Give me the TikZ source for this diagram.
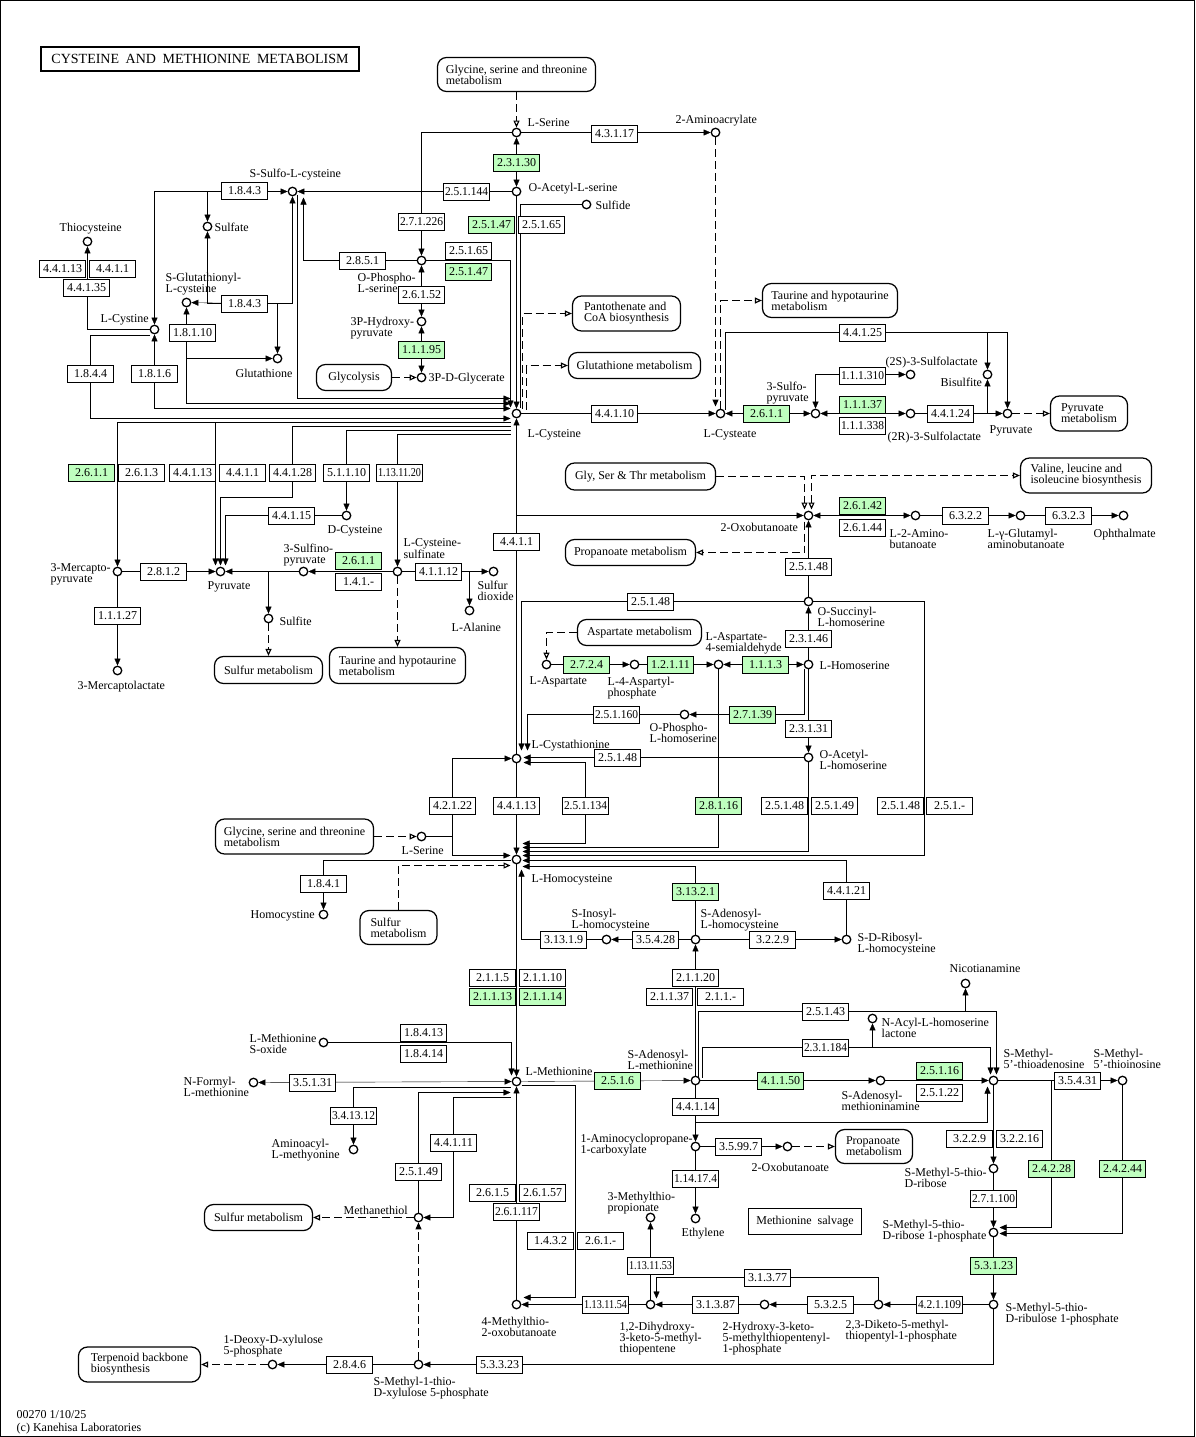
\documentclass[tikz,border=0pt]{standalone}
\usepackage{fontspec}
\setmainfont{Liberation Serif}
\usepackage{graphicx}
\usetikzlibrary{arrows.meta,calc}
\pgfdeclarelayer{lines}
\pgfsetlayers{lines,main}
\definecolor{kg}{HTML}{BFFFBF}
\newcommand\ecfit[1]{\sbox0{#1}\ifdim\wd0>43bp\relax\resizebox{43bp}{\height}{#1}\else#1\fi}
\newcommand\cpd[3]{\node[cpd] (#1) at (#2,#3) {};}
\newcommand\ecb[4]{\node[ecbox] (#1) at (#2,#3) {\ecfit{#4}};}
\newcommand\ecg[4]{\node[ecbox,fill=kg] (#1) at (#2,#3) {\ecfit{#4}};}
\newcommand\Lb[4]{\node[lb] (#1) at (#2,#3) {#4};}
\newcommand\mapb[6]{\node[mapbox,minimum width=#4bp,minimum height=#5bp] (#1) at (#2,#3) {#6};}
\begin{document}
\begin{tikzpicture}[x=1bp,y=-1bp,line width=1bp,
 cpd/.style={circle,draw,fill=white,inner sep=0pt,minimum size=8.5bp,line width=1.3bp},
 ecbox/.style={draw,fill=white,minimum width=46bp,minimum height=17bp,inner sep=0pt,font=\fontsize{12bp}{12bp}\selectfont},
 mapbox/.style={draw,fill=white,rounded corners=9bp,line width=1.25bp,align=left,inner sep=2bp,font=\fontsize{12bp}{11bp}\selectfont},
 lb/.style={anchor=north west,yshift=4.5bp,inner sep=0pt,align=left,font=\fontsize{12bp}{11bp}\selectfont},
 ar/.style={-{Triangle[length=7bp,width=6bp]}},
 ar2/.style={{Triangle[length=7bp,width=6bp]}-{Triangle[length=7bp,width=6bp]}},
 oar/.style={-{Triangle[open,length=7bp,width=6bp]}},
 oar2/.style={{Triangle[open,length=7bp,width=6bp]}-{Triangle[open,length=7bp,width=6bp]}},
 dsh/.style={dash pattern=on 8bp off 4bp,line width=1.15bp},
 rc/.style={}]
\useasboundingbox (0,0) rectangle (1195,1437);
\begin{pgfonlayer}{lines}
\fill[white] (0,0) rectangle (1195,1437);
\end{pgfonlayer}
\begin{scope}[shift={(0.5,0.5)}]
% ---------- title, maps ----------
\node[draw,line width=2bp,minimum width=318bp,minimum height=24bp,inner sep=0pt,font=\fontsize{14bp}{14bp}\selectfont] (title) at (199.5,58.5) {\makebox[297bp]{CYSTEINE\hfill AND\hfill METHIONINE\hfill METABOLISM}};
\mapb{mapgly1}{516}{74}{158}{34}{Glycine, serine and threonine\\metabolism}
\mapb{mappan}{626}{313}{108}{35}{Pantothenate and\\CoA biosynthesis}
\mapb{maptau1}{829.5}{300}{135}{34}{Taurine and hypotaurine\\metabolism}
\mapb{mapglyc}{353.5}{377}{75}{26}{Glycolysis}
\mapb{mapgsh}{634}{365}{132}{26}{Glutathione metabolism}
\mapb{mappyr}{1088.5}{413}{77}{35}{Pyruvate\\metabolism}
\mapb{mapgst}{640}{476}{150}{27}{Gly, Ser \& Thr metabolism}
\mapb{mapval}{1085.5}{475}{131}{35}{Valine, leucine and\\isoleucine biosynthesis}
\mapb{mapprop1}{630}{552}{130}{26}{Propanoate metabolism}
\mapb{mapasp}{639}{632}{124}{26}{Aspartate metabolism}
\mapb{mapsulf1}{268}{669.5}{108}{27}{Sulfur metabolism}
\mapb{maptau2}{397}{665}{136}{36}{Taurine and hypotaurine\\metabolism}
\mapb{mapgly2}{294}{836}{158}{35}{Glycine, serine and threonine\\metabolism}
\mapb{mapsulf2}{398}{927}{77}{34}{Sulfur\\metabolism}
\mapb{mapsulf3}{258}{1217}{108}{26}{Sulfur metabolism}
\mapb{mapprop2}{873.5}{1146}{77}{34}{Propanoate\\metabolism}
\mapb{mapterp}{139}{1364}{122}{35}{Terpenoid backbone\\biosynthesis}
\node[draw,fill=white,minimum width=113bp,minimum height=26bp,inner sep=0pt,font=\fontsize{12bp}{12bp}\selectfont] (salvage) at (804.5,1221) {Methionine\ \ salvage};

% ---------- compounds ----------
\cpd{ser1}{516}{132}
\cpd{aacr}{715}{132}
\cpd{oas}{516}{191}
\cpd{sulfide}{586}{204}
\cpd{ssc}{292}{191}
\cpd{sulfate}{207}{226}
\cpd{thiocys}{87}{241}
\cpd{sglc}{186}{302}
\cpd{ops}{421}{260}
\cpd{php}{421}{321}
\cpd{pg}{421}{377}
\cpd{cyss}{154}{329}
\cpd{gsh}{277}{358}
\cpd{cys}{516}{413}
\cpd{cya}{720}{413}
\cpd{spyr}{815}{413}
\cpd{sltwos}{910}{374}
\cpd{sltwor}{910}{413}
\cpd{bisulf}{987}{374}
\cpd{pyrb}{1007}{413}
\cpd{oxb}{808}{515}
\cpd{abu}{915}{515}
\cpd{gab}{1020}{515}
\cpd{oph}{1123}{515}
\cpd{mpyr}{117}{571}
\cpd{pyra}{220}{571}
\cpd{dcys}{346}{515}
\cpd{sfpyr}{303}{571}
\cpd{csa}{397}{571}
\cpd{sotwo}{493}{571}
\cpd{ala}{469}{610}
\cpd{sulfite}{268}{618}
\cpd{mlac}{117}{670}
\cpd{osh}{808}{601}
\cpd{hse}{808}{664}
\cpd{asa}{718}{664}
\cpd{aspp}{634}{664}
\cpd{asp}{546}{664}
\cpd{phse}{684}{714}
\cpd{oah}{808}{757}
\cpd{cth}{516}{758}
\cpd{sertwo}{421}{836}
\cpd{hcy}{516}{859}
\cpd{hcyss}{323}{914}
\cpd{sah}{695}{939}
\cpd{sih}{606}{939}
\cpd{srh}{846}{939}
\cpd{nic}{965}{983}
\cpd{ahl}{872}{1018}
\cpd{metso}{323}{1042}
\cpd{fmet}{253}{1082}
\cpd{met}{516}{1081}
\cpd{sam}{695}{1080}
\cpd{dsam}{880}{1080}
\cpd{mta}{993}{1080}
\cpd{mti}{1122}{1080}
\cpd{aamet}{353}{1149}
\cpd{acc}{695}{1146}
\cpd{oxbtwo}{787}{1146}
\cpd{mtr}{993}{1168}
\cpd{mtp}{650}{1217}
\cpd{eth}{695}{1218}
\cpd{msh}{418}{1217}
\cpd{mtrp}{993}{1232}
\cpd{mob}{516}{1304}
\cpd{dhk}{650}{1304}
\cpd{hkp}{764}{1304}
\cpd{dkp}{878}{1304}
\cpd{mtrup}{993}{1304}
\cpd{mtxp}{418}{1364}
\cpd{dxp}{272}{1364}

% ---------- enzymes ----------
\ecb{e43117}{614}{133}{4.3.1.17}
\ecg{e23130}{516}{162}{2.3.1.30}
\ecb{e251144}{466}{191}{2.5.1.144}
\ecb{e271226}{421}{221}{2.7.1.226}
\ecg{e25147a}{491}{224}{2.5.1.47}
\ecb{e25165a}{541}{224}{2.5.1.65}
\ecb{e1843a}{244}{190}{1.8.4.3}
\ecb{e1843b}{244}{303}{1.8.4.3}
\ecb{e2851}{362}{260}{2.8.5.1}
\ecb{e25165b}{468}{250}{2.5.1.65}
\ecg{e25147b}{468}{271}{2.5.1.47}
\ecb{e26152}{421}{294}{2.6.1.52}
\ecg{e11195}{421}{349}{1.1.1.95}
\ecb{e44113a}{62}{268}{4.4.1.13}
\ecb{e4411a}{112}{268}{4.4.1.1}
\ecb{e44135}{86}{287}{4.4.1.35}
\ecb{e18110}{192}{332}{1.8.1.10}
\ecb{e1844}{90}{373}{1.8.4.4}
\ecb{e1816}{154}{373}{1.8.1.6}
\ecb{e44110}{614}{413}{4.4.1.10}
\ecg{e2611a}{766}{413}{2.6.1.1}
\ecb{e44125}{862}{332}{4.4.1.25}
\ecb{e111310}{862}{375}{1.1.1.310}
\ecg{e11137}{862}{404}{1.1.1.37}
\ecb{e111338}{862}{425}{1.1.1.338}
\ecb{e44124}{950}{413}{4.4.1.24}
\ecg{e2611b}{91}{472}{2.6.1.1}
\ecb{e2613}{141}{472}{2.6.1.3}
\ecb{e44113b}{192}{472}{4.4.1.13}
\ecb{e4411b}{242}{472}{4.4.1.1}
\ecb{e44128}{292}{472}{4.4.1.28}
\ecb{e51110}{346}{472}{5.1.1.10}
\ecb{e1131120}{399}{472}{1.13.11.20}
\ecb{e44115}{291}{515}{4.4.1.15}
\ecb{e4411c}{516}{541}{4.4.1.1}
\ecg{e26142}{862}{505}{2.6.1.42}
\ecb{e26144}{862}{527}{2.6.1.44}
\ecb{e6322}{965}{515}{6.3.2.2}
\ecb{e6323}{1068}{515}{6.3.2.3}
\ecb{e25148a}{808}{566}{2.5.1.48}
\ecb{e2812}{163}{571}{2.8.1.2}
\ecg{e2611c}{358}{560}{2.6.1.1}
\ecb{e141x}{358}{581}{1.4.1.-}
\ecb{e41112}{438}{571}{4.1.1.12}
\ecb{e11127}{117}{615}{1.1.1.27}
\ecb{e25148b}{650}{601}{2.5.1.48}
\ecb{e23146}{808}{638}{2.3.1.46}
\ecg{e2724}{586}{664}{2.7.2.4}
\ecg{e12111}{670}{664}{1.2.1.11}
\ecg{e1113}{765}{664}{1.1.1.3}
\ecb{e251160}{616}{714}{2.5.1.160}
\ecg{e27139}{752}{714}{2.7.1.39}
\ecb{e23131}{808}{728}{2.3.1.31}
\ecb{e25148c}{617}{757}{2.5.1.48}
\ecb{e42122}{452}{805}{4.2.1.22}
\ecb{e44113c}{516}{805}{4.4.1.13}
\ecb{e251134}{585}{805}{2.5.1.134}
\ecg{e28116}{718}{805}{2.8.1.16}
\ecb{e25148d}{784}{805}{2.5.1.48}
\ecb{e25149a}{834}{805}{2.5.1.49}
\ecb{e25148e}{900}{805}{2.5.1.48}
\ecb{e251x}{949}{805}{2.5.1.-}
\ecb{e1841}{323}{883}{1.8.4.1}
\ecg{e31321}{695}{891}{3.13.2.1}
\ecb{e44121}{846}{890}{4.4.1.21}
\ecb{e31319}{563}{939}{3.13.1.9}
\ecb{e35428}{655}{939}{3.5.4.28}
\ecb{e3229a}{772}{939}{3.2.2.9}
\ecb{e2115}{492}{977}{2.1.1.5}
\ecb{e21110}{542}{977}{2.1.1.10}
\ecg{e21113}{492}{996}{2.1.1.13}
\ecg{e21114}{542}{996}{2.1.1.14}
\ecb{e21120}{695}{977}{2.1.1.20}
\ecb{e21137}{669}{996}{2.1.1.37}
\ecb{e211x}{720}{996}{2.1.1.-}
\ecb{e25143}{825}{1011}{2.5.1.43}
\ecb{e231184}{825}{1047}{2.3.1.184}
\ecb{e18413}{423}{1032}{1.8.4.13}
\ecb{e18414}{423}{1053}{1.8.4.14}
\ecb{e35131}{312}{1082}{3.5.1.31}
\ecg{e2516}{617}{1080}{2.5.1.6}
\ecg{e41150}{780}{1080}{4.1.1.50}
\ecg{e25116}{939}{1070}{2.5.1.16}
\ecb{e25122}{939}{1092}{2.5.1.22}
\ecb{e35431}{1077}{1080}{3.5.4.31}
\ecb{e44114}{695}{1106}{4.4.1.14}
\ecb{e341312}{353}{1115}{3.4.13.12}
\ecb{e35997}{738}{1146}{3.5.99.7}
\ecb{e44111}{453}{1142}{4.4.1.11}
\ecb{e3229b}{969}{1138}{3.2.2.9}
\ecb{e32216}{1019}{1138}{3.2.2.16}
\ecg{e24228}{1051}{1168}{2.4.2.28}
\ecg{e24244}{1122}{1168}{2.4.2.44}
\ecb{e25149b}{418}{1171}{2.5.1.49}
\ecb{e114174}{695}{1178}{1.14.17.4}
\ecb{e2615}{492}{1192}{2.6.1.5}
\ecb{e26157}{542}{1192}{2.6.1.57}
\ecb{e271100}{993}{1198}{2.7.1.100}
\ecb{e261117}{516}{1211}{2.6.1.117}
\ecb{e1432}{550}{1240}{1.4.3.2}
\ecb{e261x}{600}{1240}{2.6.1.-}
\ecb{e1131153}{650}{1265}{1.13.11.53}
\ecg{e53123}{993}{1265}{5.3.1.23}
\ecb{e31377}{767}{1277}{3.1.3.77}
\ecb{e1131154}{605}{1304}{1.13.11.54}
\ecb{e31387}{715}{1304}{3.1.3.87}
\ecb{e5325}{830}{1304}{5.3.2.5}
\ecb{e421109}{939}{1304}{4.2.1.109}
\ecb{e53323}{499}{1364}{5.3.3.23}
\ecb{e2846}{349}{1364}{2.8.4.6}

% ---------- compound labels ----------
\Lb{tser1}{527}{122}{L-Serine}
\Lb{taacr}{675}{119}{2-Aminoacrylate}
\Lb{toas}{528}{187}{O-Acetyl-L-serine}
\Lb{tsulfide}{595}{205}{Sulfide}
\Lb{tssc}{249}{173}{S-Sulfo-L-cysteine}
\Lb{tsulfate}{214}{227}{Sulfate}
\Lb{tthio}{59}{227}{Thiocysteine}
\Lb{tsglc}{165}{277}{S-Glutathionyl-\\L-cysteine}
\Lb{tops}{357}{277}{O-Phospho-\\L-serine}
\Lb{tphp}{350}{321}{3P-Hydroxy-\\pyruvate}
\Lb{tpg}{428}{377}{3P-D-Glycerate}
\Lb{tcyss}{100}{318}{L-Cystine}
\Lb{tgsh}{235}{373}{Glutathione}
\Lb{tcys}{527}{433}{L-Cysteine}
\Lb{tcya}{703}{433}{L-Cysteate}
\Lb{tspyr}{766}{386}{3-Sulfo-\\pyruvate}
\Lb{tsltwos}{885}{361}{(2S)-3-Sulfolactate}
\Lb{tsltwor}{887}{436}{(2R)-3-Sulfolactate}
\Lb{tbisulf}{940}{382}{Bisulfite}
\Lb{tpyrb}{989}{429}{Pyruvate}
\Lb{toxb}{720}{527}{2-Oxobutanoate}
\Lb{tabu}{889}{533}{L-2-Amino-\\butanoate}
\Lb{tgab}{987}{533}{L-γ-Glutamyl-\\aminobutanoate}
\Lb{toph}{1093}{533}{Ophthalmate}
\Lb{tmpyr}{50}{567}{3-Mercapto-\\pyruvate}
\Lb{tpyra}{207}{585}{Pyruvate}
\Lb{tdcys}{327}{529}{D-Cysteine}
\Lb{tsfpyr}{283}{548}{3-Sulfino-\\pyruvate}
\Lb{tcsa}{403}{542}{L-Cysteine-\\sulfinate}
\Lb{tsotwo}{477}{585}{Sulfur\\dioxide}
\Lb{tala}{451}{627}{L-Alanine}
\Lb{tsulfite}{279}{621}{Sulfite}
\Lb{tmlac}{77}{685}{3-Mercaptolactate}
\Lb{tosh}{817}{611}{O-Succinyl-\\L-homoserine}
\Lb{thse}{819}{665}{L-Homoserine}
\Lb{tasa}{705}{636}{L-Aspartate-\\4-semialdehyde}
\Lb{taspp}{607}{681}{L-4-Aspartyl-\\phosphate}
\Lb{tasp}{529}{680}{L-Aspartate}
\Lb{tphse}{649}{727}{O-Phospho-\\L-homoserine}
\Lb{toah}{819}{754}{O-Acetyl-\\L-homoserine}
\Lb{tcth}{531}{744}{L-Cystathionine}
\Lb{tsertwo}{401}{850}{L-Serine}
\Lb{thcy}{531}{878}{L-Homocysteine}
\Lb{thcyss}{250}{914}{Homocystine}
\Lb{tsah}{700}{913}{S-Adenosyl-\\L-homocysteine}
\Lb{tsih}{571}{913}{S-Inosyl-\\L-homocysteine}
\Lb{tsrh}{857}{937}{S-D-Ribosyl-\\L-homocysteine}
\Lb{tnic}{949}{968}{Nicotianamine}
\Lb{tahl}{881}{1022}{N-Acyl-L-homoserine\\lactone}
\Lb{tmetso}{249}{1038}{L-Methionine\\S-oxide}
\Lb{tfmet}{183}{1081}{N-Formyl-\\L-methionine}
\Lb{tmet}{525}{1071}{L-Methionine}
\Lb{tsam}{627}{1054}{S-Adenosyl-\\L-methionine}
\Lb{tdsam}{841}{1095}{S-Adenosyl-\\methioninamine}
\Lb{tmta}{1003}{1053}{S-Methyl-\\5'-thioadenosine}
\Lb{tmti}{1093}{1053}{S-Methyl-\\5'-thioinosine}
\Lb{taamet}{271}{1143}{Aminoacyl-\\L-methyonine}
\Lb{tacc}{580}{1138}{1-Aminocyclopropane-\\1-carboxylate}
\Lb{toxbtwo}{751}{1167}{2-Oxobutanoate}
\Lb{tmtr}{904}{1172}{S-Methyl-5-thio-\\D-ribose}
\Lb{tmtp}{607}{1196}{3-Methylthio-\\propionate}
\Lb{teth}{681}{1232}{Ethylene}
\Lb{tmsh}{343}{1210}{Methanethiol}
\Lb{tmtrp}{882}{1224}{S-Methyl-5-thio-\\D-ribose 1-phosphate}
\Lb{tmob}{481}{1321}{4-Methylthio-\\2-oxobutanoate}
\Lb{tdhk}{619}{1326}{1,2-Dihydroxy-\\3-keto-5-methyl-\\thiopentene}
\Lb{thkp}{722}{1326}{2-Hydroxy-3-keto-\\5-methylthiopentenyl-\\1-phosphate}
\Lb{tdkp}{845}{1324}{2,3-Diketo-5-methyl-\\thiopentyl-1-phosphate}
\Lb{tmtrup}{1005}{1307}{S-Methyl-5-thio-\\D-ribulose 1-phosphate}
\Lb{tmtxp}{373}{1381}{S-Methyl-1-thio-\\D-xylulose 5-phosphate}
\Lb{tdxp}{223}{1339}{1-Deoxy-D-xylulose\\5-phosphate}
\Lb{foota}{16}{1414}{00270 1/10/25}
\Lb{footb}{16}{1427}{(c) Kanehisa Laboratories}

% ---------- connectors ----------
\begin{pgfonlayer}{lines}
% top: serine
\draw[dsh,oar] (mapgly1.south) -- (ser1);
\draw[ar] (ser1) -- (aacr);
\draw[ar2] (ser1) -- (oas);
\draw[ar] (oas) -- (ssc);
\draw[ar,rc] (ser1) -| (ops);
\draw[ar] (oas) -- (cys);
\draw[rc] (sulfide) -| ($(cys)+(4,-6)$);
\draw[ar,rc] (ops) -| ($(cys)+(-6,-6)$);
\draw[ar2] (php) -- (ops);
\draw[ar2] (pg) -- (php);
\draw[dsh,oar] (mapglyc) -- (pg);
\draw[ar,rc] (ops) -| ($(ssc)+(11,6)$);
% 1.8.4.3
\draw[ar2,rc] (ssc) -| (cyss);
\draw[ar,rc] (222,191) -| (sulfate);
\draw[ar] (e1843b) -- (sglc);
\draw[ar,rc] (e1843b.center) -| (ssc);
\draw[ar,rc] (e1843b.center) -| (gsh);
\draw[ar,rc] (e1843b.center) -| (sulfate);
\draw[ar,rc] ($(ssc)+(5,4)$) |- ($(cys)+(-6,-15)$);
% cystine
\draw[ar,rc] (cyss) -| (thiocys);
\draw[ar,rc] ($(cyss)+(-5,6)$) -| (90,418) -- ($(cys)+(-6,5)$);
\draw[ar2,rc] ($(cys)+(-6,-5)$) -| (cyss);
\draw[ar2,rc] ($(cys)+(-6,-10)$) -| (sglc);
\draw[ar,rc] (186,340) |- (gsh);
% pantothenate / glutathione
\draw[dsh,oar,rc] ($(cys)+(6,-5)$) |- (mappan.west);
\draw[dsh,oar,rc] ($(cys)+(10,-4)$) |- (mapgsh.west);
% cysteate
\draw[ar] (cys) -- (cya);
\draw[dsh,ar] (aacr) -- ($(cya)+(-5,-7)$);
\draw[dsh,oar,rc] (cya) |- (maptau1.west);
\draw[ar,rc] ($(cya)+(5,-4)$) |- (1007,332) -- (pyrb);
\draw[ar,rc] (978,332) -| (bisulf);
\draw[ar2] (spyr) -- (cya);
\draw[ar2,rc] (spyr) |- (sltwos);
\draw[ar2] (spyr) -- (sltwor);
\draw[ar] (sltwor) -- (pyrb);
\draw[ar] (987,413) -- (bisulf);
\draw[dsh,oar] (pyrb) -- (mappyr);
% 2-oxobutanoate
\draw[dsh,oar,rc] (mapgst.east) -| ($(oxb)+(-4,-6)$);
\draw[dsh,oar2,rc] ($(oxb)+(3,-6)$) |- (mapval.west);
\draw[dsh,oar,rc] ($(oxb)+(-4,6)$) |- (mapprop1.east);
\draw[ar] (cth) -- (cys);
\draw[ar,rc] (516,532) |- (oxb);
\draw[ar2] (oxb) -- (abu);
\draw[ar] (abu) -- (gab);
\draw[ar] (gab) -- (oph);
\draw[ar] (osh) -- (oxb);
% cysteine degradation (left)
\draw[ar,rc] ($(cys)+(-6,9)$) -| (mpyr);
\draw[ar,rc] (240,422) -| ($(pyra)+(-5,-6)$);
\draw[ar,rc] ($(cys)+(-6,13)$) -| (292,497) -| ($(pyra)+(0,-6)$);
\draw[ar,rc] (dcys) -| ($(pyra)+(5,-6)$);
\draw[ar,rc] ($(cys)+(-6,17)$) -| (dcys);
\draw[ar,rc] ($(cys)+(-6,21)$) -| (csa);
\draw[ar] (mpyr) -- (pyra);
\draw[ar] (mpyr) -- (mlac);
\draw[ar] (csa) -- (sfpyr);
\draw[ar] (sfpyr) -- (pyra);
\draw[ar,rc] (282,571) -| (sulfite);
\draw[dsh,oar] (sulfite) -- (mapsulf1);
\draw[dsh,oar] (csa) -- (maptau2);
\draw[ar] (csa) -- (sotwo);
\draw[ar,rc] (458,571) -| (ala);
% aspartate / homoserine
\draw[dsh,oar,rc] (mapasp.west) -| (asp);
\draw[ar] (asp) -- (aspp);
\draw[ar] (aspp) -- (asa);
\draw[ar2] (asa) -- (hse);
\draw[ar] (hse) -- (osh);
\draw[ar,rc] (osh) -| ($(cth)+(5,-8)$);
\draw[ar,rc] (osh) -| (924,855) -- ($(hcy)+(6,-4)$);
\draw[ar] (hse) -- (oah);
\draw[ar,rc] ($(hse)+(-4,4)$) |- (phse);
\draw[ar,rc] (phse) -| ($(cth)+(11,-8)$);
\draw[ar] (oah) -- ($(cth)+(7,-1)$);
\draw[ar,rc] (asa) |- ($(hcy)+(6,-12)$);
\draw[ar,rc] (oah) |- ($(hcy)+(6,-8)$);
\draw[ar2,rc] ($(cth)+(7,4)$) -| (585,843) -- ($(hcy)+(6,-16)$);
\draw[ar] (cth) -- (hcy);
\draw[ar2,rc] ($(hcy)+(-6,-4)$) -| (452,758) -- (cth);
\draw[rc] (sertwo) -| (452,815);
\draw[dsh,oar] (mapgly2) -- (sertwo);
\draw[ar,rc] ($(hcy)+(-6,1)$) -| (hcyss);
\draw[dsh,oar,rc] (mapsulf2.north) |- ($(hcy)+(-6,6)$);
\draw[ar,rc] (sah) |- ($(hcy)+(6,7)$);
\draw[ar,rc] (srh) |- ($(hcy)+(6,1)$);
\draw[ar] (sah) -- (srh);
\draw[ar] (sah) -- (sih);
\draw[ar,rc] (sih) -| ($(hcy)+(5,10)$);
\draw[ar] (hcy) -- (met);
\draw[ar] (sam) -- (sah);
% methionine
\draw[ar,rc] (metso) -| ($(met)+(-5,-6)$);
\draw[ar2] (met) -- (fmet);
\draw[ar,rc] ($(met)+(-6,6)$) -| (aamet);
\draw[ar,rc] (msh) |- ($(met)+(-6,11)$);
\draw[ar,rc] ($(met)+(-6,16)$) -| (453,1217) -- (msh);
\draw[dsh,oar] (msh) -- (mapsulf3);
\draw[dsh,ar] (mtxp) -- (msh);
\draw[ar] (mtxp) -- (dxp);
\draw[dsh,oar] (dxp) -- (mapterp);
\draw[ar,rc] (mtrup) |- (mtxp);
\draw[ar] (mob) -- (met);
\draw[ar,rc] ($(met)+(5,4)$) -| (575,1297) -- ($(mob)+(7,-7)$);
\draw[ar] (dhk) -- (mob);
\draw[ar] (dhk) -- (mtp);
\draw[ar] (hkp) -- (dhk);
\draw[ar,rc] (dkp) |- (656,1277) -- ($(dhk)+(6,-6)$);
\draw[ar] (dkp) -- (hkp);
\draw[ar] (mtrup) -- (dkp);
\draw[ar] (mtrp) -- (mtrup);
\draw[ar] (mtr) -- (mtrp);
\draw[ar] (mta) -- (mtr);
\draw[ar,rc] (mta) -| (1051,1227) -- ($(mtrp)+(6,-5)$);
\draw[ar] (mta) -- (mti);
\draw[ar,rc] (mti) |- ($(mtrp)+(6,1)$);
\draw[ar,rc] ($(sam)+(3,-4)$) |- (996,1011) -- ($(mta)+(3,-6)$);
\draw[ar,rc] (955,1011) -| (nic);
\draw[ar,rc] ($(sam)+(7,-3)$) |- (990,1047) -- ($(mta)+(-3,-6)$);
\draw[ar,rc] (862,1047) -| (ahl);
\draw[ar] (met) -- (sam);
\draw[ar] (sam) -- (dsam);
\draw[ar] (dsam) -- (mta);
\draw[ar] (sam) -- (acc);
\draw[ar,rc] (695,1112) |- (987,1122) -- ($(mta)+(-6,6)$);
\draw[ar] (acc) -- (oxbtwo);
\draw[ar] (acc) -- (eth);
\draw[dsh,oar] (oxbtwo) -- (mapprop2);
\end{pgfonlayer}
\end{scope}
\draw (0.5,0.5) rectangle (1194.5,1436.5);
\end{tikzpicture}
\end{document}
